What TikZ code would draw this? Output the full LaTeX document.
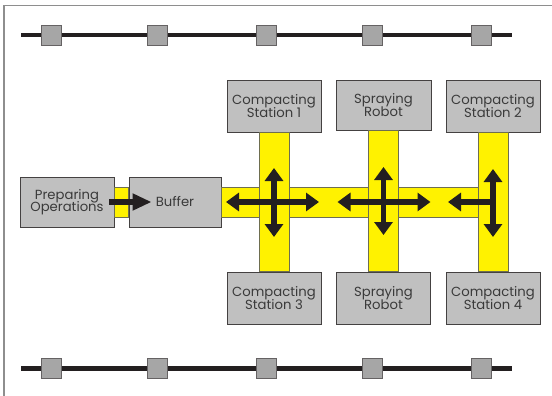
\documentclass[tikz,border=0pt]{standalone}
\usepackage{fontspec}
\setmainfont{Poppins}
\usetikzlibrary{arrows.meta}
\definecolor{boxgray}{HTML}{C0C0C0}
\definecolor{stopgray}{HTML}{A6A6A6}
\definecolor{inkdark}{HTML}{231F20}
\definecolor{textgray}{HTML}{3A3A3A}
\definecolor{framegray}{HTML}{8E8E8E}
\definecolor{bandline}{HTML}{6E6E50}
\newcommand{\stationfont}{\fontsize{13.2}{12.6}\selectfont\lineskiplimit=-20pt\relax\lineskip=0pt\relax}
\tikzset{
  station/.style={
    draw=inkdark!85,
    fill=boxgray,
    line width=0.9pt,
    minimum width=94pt,
    minimum height=52pt,
    inner sep=0pt,
    align=center,
    text=textgray,
    font=\stationfont
  },
  stopbox/.style={
    draw=inkdark!70,
    fill=stopgray,
    line width=0.9pt,
    minimum size=20pt,
    inner sep=0pt
  },
  rail/.style={
    draw=inkdark,
    line width=4.6pt
  },
  band/.style={
    fill=yellow,
    draw=bandline,
    line width=0.8pt
  },
  bigarrow/.style={
    draw=inkdark,
    line width=5.8pt,
    -{Triangle[width=18pt,length=13pt]}
  },
  bothways/.style={
    bigarrow,
    {Triangle[width=18pt,length=13pt]}-{Triangle[width=18pt,length=13pt]}
  }
}

\begin{document}
\begin{tikzpicture}[x=1pt,y=-1pt]
    \useasboundingbox (0,0) rectangle (552,396);
    % frame
    \draw[framegray, line width=1.8pt] (552,5.5) -- (4.3,5.5) -- (4.3,396);

    % rails with stops
    \coordinate (railNW) at (21,35.2);
    \coordinate (railNE) at (512,35.2);
    \coordinate (railSW) at (21,368.7);
    \coordinate (railSE) at (512,368.7);
    \draw[rail] (railNW) -- (railNE);
    \draw[rail] (railSW) -- (railSE);
    \foreach \x [count=\i] in {51.7,157.8,266.3,372.5,481}{
        \node[stopbox] (up\i) at (\x,35.2) {};
        \node[stopbox] (down\i) at (\x,368.7) {};
    }

    % stations
    \node[station, minimum width=94pt, minimum height=50pt] (prep) at (67,202) {Preparing\\Operations};
    \node[station, minimum width=92pt, minimum height=50pt] (buffer) at (175,202) {Buffer};
    \node[station] (cs1) at (274,106) {Compacting\\Station 1};
    \node[station, minimum width=95pt, minimum height=50pt] (robotA) at (383.5,105) {Spraying\\Robot};
    \node[station] (cs2) at (493,106) {Compacting\\Station 2};
    \node[station] (cs3) at (274,298) {Compacting\\Station 3};
    \node[station] (robotB) at (383.5,298) {Spraying\\Robot};
    \node[station] (cs4) at (493,298) {Compacting\\Station 4};

    % conveyor bands
    \coordinate (hub1) at (cs1.south |- buffer.center);
    \coordinate (hub2) at (robotA.south |- buffer.center);
    \coordinate (hub3) at (cs2.south |- buffer.center);
    \draw[band] ([yshift=15pt]prep.east) rectangle ([yshift=-15pt]buffer.west);
    \draw[band] ([yshift=15pt]buffer.east) rectangle ([xshift=-15pt,yshift=-15pt]hub3);
    \draw[band] ([xshift=-15pt]cs1.south) rectangle ([xshift=15pt]cs3.north);
    \draw[band] ([xshift=-15pt]robotA.south) rectangle ([xshift=15pt]robotB.north);
    \draw[band] ([xshift=-15pt]cs2.south) rectangle ([xshift=15pt]cs4.north);

    % transport arrows
    \draw[bigarrow, -{Triangle[width=16pt,length=19pt]}] ([xshift=-5pt]prep.east) -- ([xshift=23pt]buffer.west);
    \draw[bothways] ([xshift=-48pt]hub1) -- ([xshift=45pt]hub1);
    \draw[bothways] ([yshift=34pt]hub1) -- ([yshift=-35pt]hub1);
    \draw[bothways] ([xshift=-46pt]hub2) -- ([xshift=47pt]hub2);
    \draw[bothways] ([yshift=35pt]hub2) -- ([yshift=-33pt]hub2);
    \draw[bigarrow] (hub3) -- ([xshift=-45pt]hub3);
    \draw[bothways] ([yshift=33pt]hub3) -- ([yshift=-35pt]hub3);
\end{tikzpicture}
\end{document}
